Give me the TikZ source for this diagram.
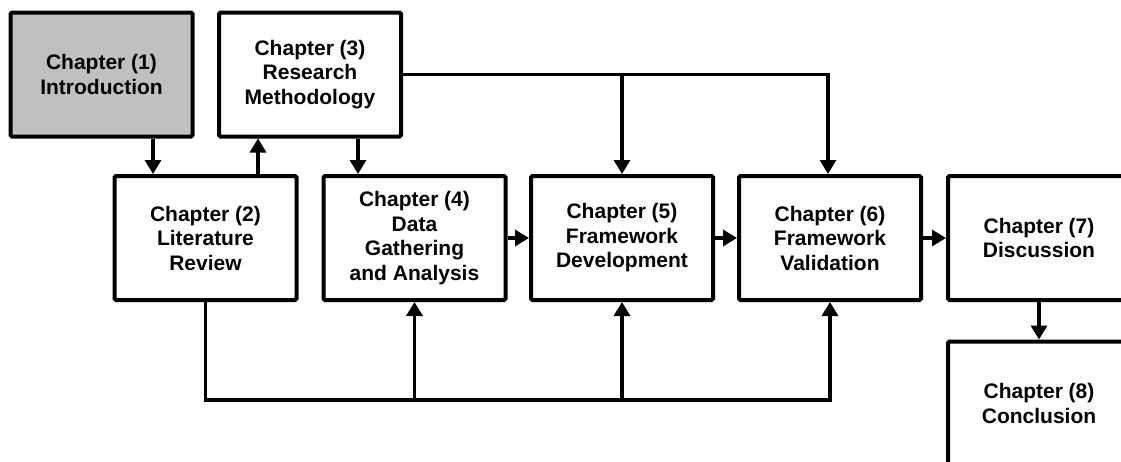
\documentclass[tikz,border=0pt]{standalone}
\usepackage{fontspec}
\setmainfont{Liberation Sans}
\usetikzlibrary{arrows.meta,calc}
\definecolor{boxgray}{RGB}{192,192,192}
\tikzset{
  chap/.style={draw=black, line width=4pt, rounded corners=1.5pt, minimum width=182pt, minimum height=124pt,
    align=center, font=\fontsize{21}{24.5}\selectfont\bfseries, inner sep=0pt},
  arr/.style={line width=3.3pt, -{Triangle[width=16pt,length=14pt]}},
}
\begin{document}
\begin{tikzpicture}[x=1pt,y=-1pt]
\useasboundingbox (0,0) rectangle (1121,461);
\clip (0,0) rectangle (1121,461);
\node[chap, fill=boxgray] (b1) at (101.5,74.5) {Chapter (1)\\Introduction};
\node[chap] (b3) at (310,74.5) {Chapter (3)\\Research\\Methodology};
\node[chap] (b2) at (205.5,238) {Chapter (2)\\Literature\\Review};
\node[chap] (b4) at (414.5,238) {Chapter (4)\\Data\\Gathering\\and Analysis};
\node[chap] (b5) at (622,238) {Chapter (5)\\Framework\\Development};
\node[chap] (b6) at (830,238) {Chapter (6)\\Framework\\Validation};
\node[chap] (b7) at (1039,238) {Chapter (7)\\Discussion};
\node[chap] (b8) at (1039,403.5) {Chapter (8)\\Conclusion};
\coordinate (bot) at (0,400);
% vertical links
\draw[arr] ([xshift=51.5pt]b1.south) -- ([xshift=51.5pt]b1.south |- b2.north);
\draw[arr] ([xshift=52.5pt]b2.north) -- ([xshift=52.5pt]b2.north |- b3.south);
\draw[arr] ([xshift=48pt]b3.south) -- ([xshift=48pt]b3.south |- b4.north);
% top distribution line
\draw[arr, line join=miter] (b3.east) -| ([xshift=-2pt]b6.north);
\draw[arr] (b5.north |- b3.east) -- (b5.north);
% horizontal chain
\draw[arr] (b4.east) -- (b5.west);
\draw[arr] (b5.east) -- (b6.west);
\draw[arr] (b6.east) -- (b7.west);
\draw[arr] (b7.south) -- (b8.north);
% bottom distribution line
\draw[arr, line join=miter] (b2.south) |- (bot -| b6.south) -- (b6.south);
\draw[arr] (b4.south |- bot) -- (b4.south);
\draw[arr] (b5.south |- bot) -- (b5.south);
\end{tikzpicture}
\end{document}
